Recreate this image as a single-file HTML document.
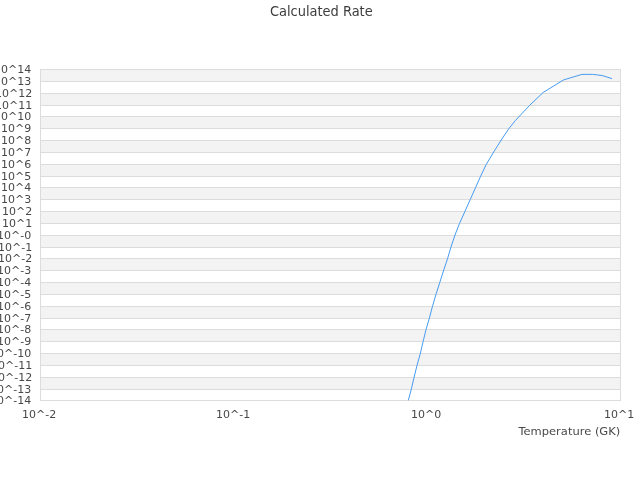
<!DOCTYPE html>
<html><head><meta charset="utf-8"><title>Calculated Rate</title>
<style>html,body{margin:0;padding:0;background:#fff;overflow:hidden}</style></head>
<body>
<svg width="640" height="480" viewBox="0 0 640 480" style="display:block;will-change:transform;font-family:'DejaVu Sans','Liberation Sans',sans-serif">
<rect x="0" y="0" width="640" height="480" fill="#ffffff"/>
<rect x="40" y="69" width="580" height="12" fill="#f3f3f3"/>
<rect x="40" y="93" width="580" height="12" fill="#f3f3f3"/>
<rect x="40" y="116" width="580" height="12" fill="#f3f3f3"/>
<rect x="40" y="140" width="580" height="12" fill="#f3f3f3"/>
<rect x="40" y="164" width="580" height="12" fill="#f3f3f3"/>
<rect x="40" y="187" width="580" height="12" fill="#f3f3f3"/>
<rect x="40" y="211" width="580" height="12" fill="#f3f3f3"/>
<rect x="40" y="235" width="580" height="12" fill="#f3f3f3"/>
<rect x="40" y="258" width="580" height="12" fill="#f3f3f3"/>
<rect x="40" y="282" width="580" height="12" fill="#f3f3f3"/>
<rect x="40" y="306" width="580" height="12" fill="#f3f3f3"/>
<rect x="40" y="329" width="580" height="12" fill="#f3f3f3"/>
<rect x="40" y="353" width="580" height="12" fill="#f3f3f3"/>
<rect x="40" y="377" width="580" height="12" fill="#f3f3f3"/>
<rect x="40" y="69" width="581" height="1" fill="#dcdcdc"/>
<rect x="40" y="81" width="581" height="1" fill="#dcdcdc"/>
<rect x="40" y="93" width="581" height="1" fill="#dcdcdc"/>
<rect x="40" y="105" width="581" height="1" fill="#dcdcdc"/>
<rect x="40" y="116" width="581" height="1" fill="#dcdcdc"/>
<rect x="40" y="128" width="581" height="1" fill="#dcdcdc"/>
<rect x="40" y="140" width="581" height="1" fill="#dcdcdc"/>
<rect x="40" y="152" width="581" height="1" fill="#dcdcdc"/>
<rect x="40" y="164" width="581" height="1" fill="#dcdcdc"/>
<rect x="40" y="176" width="581" height="1" fill="#dcdcdc"/>
<rect x="40" y="187" width="581" height="1" fill="#dcdcdc"/>
<rect x="40" y="199" width="581" height="1" fill="#dcdcdc"/>
<rect x="40" y="211" width="581" height="1" fill="#dcdcdc"/>
<rect x="40" y="223" width="581" height="1" fill="#dcdcdc"/>
<rect x="40" y="235" width="581" height="1" fill="#dcdcdc"/>
<rect x="40" y="247" width="581" height="1" fill="#dcdcdc"/>
<rect x="40" y="258" width="581" height="1" fill="#dcdcdc"/>
<rect x="40" y="270" width="581" height="1" fill="#dcdcdc"/>
<rect x="40" y="282" width="581" height="1" fill="#dcdcdc"/>
<rect x="40" y="294" width="581" height="1" fill="#dcdcdc"/>
<rect x="40" y="306" width="581" height="1" fill="#dcdcdc"/>
<rect x="40" y="318" width="581" height="1" fill="#dcdcdc"/>
<rect x="40" y="329" width="581" height="1" fill="#dcdcdc"/>
<rect x="40" y="341" width="581" height="1" fill="#dcdcdc"/>
<rect x="40" y="353" width="581" height="1" fill="#dcdcdc"/>
<rect x="40" y="365" width="581" height="1" fill="#dcdcdc"/>
<rect x="40" y="377" width="581" height="1" fill="#dcdcdc"/>
<rect x="40" y="389" width="581" height="1" fill="#dcdcdc"/>
<rect x="40" y="400" width="581" height="1" fill="#dcdcdc"/>
<rect x="40" y="69" width="1" height="332" fill="#dcdcdc"/>
<rect x="620" y="69" width="1" height="332" fill="#dcdcdc"/>
<path d="M408.4 400 L411.25 389.4 L414.1 377.2 L416.9 365.9 L420.25 353.75 L423.1 341.6 L426.0 329.6 L429.4 318.1 L432.5 306.25 L436 294.4 L439.75 282.5 L443.75 270 L447.5 258.75 L451 246.9 L455 235 L459.4 223.75 L465 211.25 L470.3 199.4 L475.6 187.5 L480.6 176.25 L486.25 164.4 L493.75 151.9 L501.25 140 L508.75 128.75 L515.3 120.6 L529.4 105.6 L543.1 92.5 L563.6 79.9 L581.9 74.4 L592.5 74.35 L602 75.5 L611.7 78.5" fill="none" stroke="#479bf1" stroke-width="1" stroke-linejoin="round" stroke-linecap="round"/>
<text transform="translate(321.3,15.7) scale(1,1.05)" x="0" y="0" text-anchor="middle" font-size="13" fill="#3c3c3c">Calculated Rate</text>
<text x="-6" y="73" font-size="11" fill="#484848">10^14</text>
<text x="-6" y="85" font-size="11" fill="#484848">10^13</text>
<text x="-5" y="97" font-size="11" fill="#484848">10^12</text>
<text x="-5" y="109" font-size="11" fill="#484848">10^11</text>
<text x="-6" y="120" font-size="11" fill="#484848">10^10</text>
<text x="1" y="132" font-size="11" fill="#484848">10^9</text>
<text x="1" y="144" font-size="11" fill="#484848">10^8</text>
<text x="1" y="156" font-size="11" fill="#484848">10^7</text>
<text x="1" y="168" font-size="11" fill="#484848">10^6</text>
<text x="1" y="180" font-size="11" fill="#484848">10^5</text>
<text x="1" y="191" font-size="11" fill="#484848">10^4</text>
<text x="1" y="203" font-size="11" fill="#484848">10^3</text>
<text x="2" y="215" font-size="11" fill="#484848">10^2</text>
<text x="2" y="227" font-size="11" fill="#484848">10^1</text>
<text x="-3" y="239" font-size="11" fill="#484848">10^-0</text>
<text x="-2" y="251" font-size="11" fill="#484848">10^-1</text>
<text x="-2" y="262" font-size="11" fill="#484848">10^-2</text>
<text x="-3" y="274" font-size="11" fill="#484848">10^-3</text>
<text x="-3" y="286" font-size="11" fill="#484848">10^-4</text>
<text x="-3" y="298" font-size="11" fill="#484848">10^-5</text>
<text x="-3" y="310" font-size="11" fill="#484848">10^-6</text>
<text x="-3" y="322" font-size="11" fill="#484848">10^-7</text>
<text x="-3" y="333" font-size="11" fill="#484848">10^-8</text>
<text x="-3" y="345" font-size="11" fill="#484848">10^-9</text>
<text x="-10" y="357" font-size="11" fill="#484848">10^-10</text>
<text x="-9" y="369" font-size="11" fill="#484848">10^-11</text>
<text x="-9" y="381" font-size="11" fill="#484848">10^-12</text>
<text x="-10" y="393" font-size="11" fill="#484848">10^-13</text>
<text x="-10" y="404" font-size="11" fill="#484848">10^-14</text>
<text x="22" y="418" font-size="11" fill="#484848">10^-2</text>
<text x="216" y="418" font-size="11" fill="#484848">10^-1</text>
<text x="411" y="418" font-size="11" fill="#484848">10^0</text>
<text x="604" y="418" font-size="11" fill="#484848">10^1</text>
<text transform="translate(620.3,435) scale(1.045,1)" x="0" y="0" text-anchor="end" font-size="11" fill="#484848">Temperature (GK)</text>
</svg>
</body></html>
